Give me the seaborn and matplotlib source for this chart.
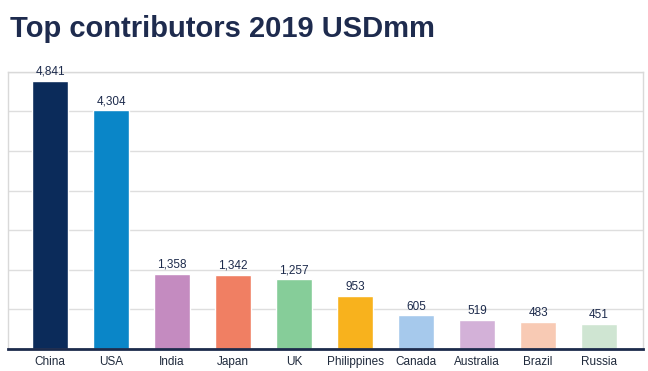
import numpy as np
import pandas as pd
import seaborn as sns
import matplotlib.pyplot as plt

countries = ["China", "USA", "India", "Japan", "UK", "Philippines",
             "Canada", "Australia", "Brazil", "Russia"]
values = [4841, 4304, 1358, 1342, 1257, 953, 605, 519, 483, 451]
colors = ["#0b2b5a", "#0a86c8", "#c48bc0", "#f07f63", "#86cd99",
          "#f8b21d", "#a6c9ec", "#d3b1d8", "#f8cab4", "#cfe5d2"]

df = pd.DataFrame({"country": countries, "value": values})

sns.set_style("white")
plt.rcParams["font.family"] = ["Liberation Sans", "DejaVu Sans"]

fig = plt.figure(figsize=(6.48, 3.71), dpi=100)
ax = fig.add_axes([0.0123, 0.0593, 0.98, 0.747])

sns.barplot(data=df, x="country", y="value", hue="country",
            palette=colors, width=0.59, legend=False, ax=ax, saturation=1)

ax.set_ylim(0, 5000)
ax.set_xlim(-0.69, 9.72)
ax.set_yticks(np.linspace(0, 5000, 8))
ax.set_yticklabels([])
ax.yaxis.grid(True, color="#dedede", linewidth=1)
ax.set_axisbelow(True)
ax.set_xlabel("")
ax.set_ylabel("")
ax.tick_params(axis="x", length=0, pad=5, labelsize=8.5, labelcolor="#1f2a3c")
ax.tick_params(axis="y", length=0)

for side in ["left", "top", "right"]:
    ax.spines[side].set_color("#d9d9d9")
    ax.spines[side].set_linewidth(1)
ax.spines["bottom"].set_color("#1d2b4c")
ax.spines["bottom"].set_linewidth(2)

for i, v in enumerate(values):
    ax.annotate(f"{v:,}", (i, v), xytext=(0, 2), textcoords="offset points",
                ha="center", va="bottom", fontsize=8.5, color="#1d2b4c")

fig.text(0.015, 0.96, "Top contributors 2019 USDmm", fontsize=21,
         fontweight="bold", color="#1e2b4e", ha="left", va="top")

fig.savefig("out.png", dpi=100)
